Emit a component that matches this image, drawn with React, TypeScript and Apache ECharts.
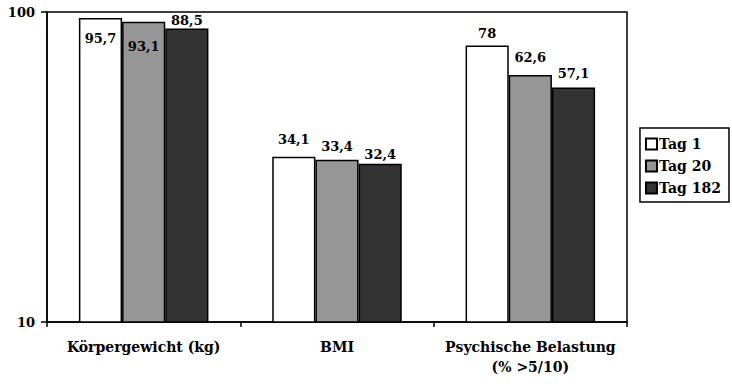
import React, { useEffect, useRef } from "react";
import * as echarts from "echarts";

const categories = ["Körpergewicht (kg)", "BMI", "Psychische Belastung\n(% >5/10)"];
const seriesNames = ["Tag 1", "Tag 20", "Tag 182"];
const tag1 = [95.7, 34.1, 78];
const tag20 = [93.1, 33.4, 62.6];
const tag182 = [88.5, 32.4, 57.1];
const colors = ["#ffffff", "#969696", "#333333"];

// label placement tweaks (style only)
const labelPlacement = [
  [{ pos: "insideTop", d: 14 }, { pos: "top", d: 11 }, { pos: "top", d: 5 }],
  [{ pos: "insideTop", d: 18 }, { pos: "top", d: 6.5 }, { pos: "top", d: 11 }],
  [{ pos: "top", d: 1 }, { pos: "top", d: 3 }, { pos: "top", d: 7.5 }],
];

const FONT = "DejaVu Serif";

export default function App() {
  const ref = useRef<HTMLDivElement>(null);
  useEffect(() => {
    if (!ref.current) return;
    const chart = echarts.init(ref.current, undefined, { renderer: "svg" });
    const all = [tag1, tag20, tag182];
    const fmt = (v: number) => String(v).replace(".", ",");
    const series = all.map((vals, si) => ({
      name: seriesNames[si],
      type: "bar",
      barGap: "0%",
      barCategoryGap: "33%",
      itemStyle: { color: colors[si], borderColor: "#000", borderWidth: 1.5 },
      label: {
        show: true,
        position: "top",
        distance: 6,
        color: "#000",
        fontFamily: FONT,
        fontWeight: "bold",
        fontSize: 13,
        formatter: (p: any) => fmt(p.value),
      },
      data: vals.map((v, i) => ({
        value: v,
        label: { position: labelPlacement[si][i].pos, distance: labelPlacement[si][i].d },
      })),
    }));
    chart.setOption({
      animation: false,
      textStyle: { fontFamily: FONT },
      grid: {
        left: 47,
        right: 105,
        top: 12,
        bottom: 62,
        show: true,
        borderColor: "#000",
        borderWidth: 1.5,
        backgroundColor: "transparent",
      },
      legend: {
        orient: "vertical",
        right: 3,
        top: 128,
        itemWidth: 11,
        itemHeight: 11,
        itemGap: 8,
        padding: [9, 8, 7, 5],
        borderColor: "#000",
        borderWidth: 1.5,
        icon: "rect",
        data: seriesNames,
        textStyle: {
          fontFamily: FONT,
          fontWeight: "bold",
          fontSize: 14,
          color: "#000",
          padding: [0, 0, 0, -3],
        },
      },
      xAxis: {
        type: "category",
        data: categories,
        axisLine: { lineStyle: { color: "#000", width: 1.5 } },
        axisTick: { show: true, length: 5, lineStyle: { color: "#000", width: 1.5 } },
        axisLabel: {
          interval: 0,
          margin: 15,
          color: "#000",
          fontFamily: FONT,
          fontWeight: "bold",
          fontSize: 14,
          lineHeight: 20,
        },
      },
      yAxis: {
        type: "log",
        logBase: 10,
        min: 10,
        max: 100,
        splitLine: { show: false },
        axisLine: { show: true, lineStyle: { color: "#000", width: 1.5 } },
        axisTick: { show: true, length: 6, lineStyle: { color: "#000", width: 1.5 } },
        axisLabel: {
          color: "#000",
          fontFamily: FONT,
          fontWeight: "bold",
          fontSize: 13,
          margin: 12,
        },
      },
      series,
    });
    return () => chart.dispose();
  }, []);
  return <div ref={ref} style={{ width: 732, height: 384, position: "absolute", left: 0, top: 0 }} />;
}
